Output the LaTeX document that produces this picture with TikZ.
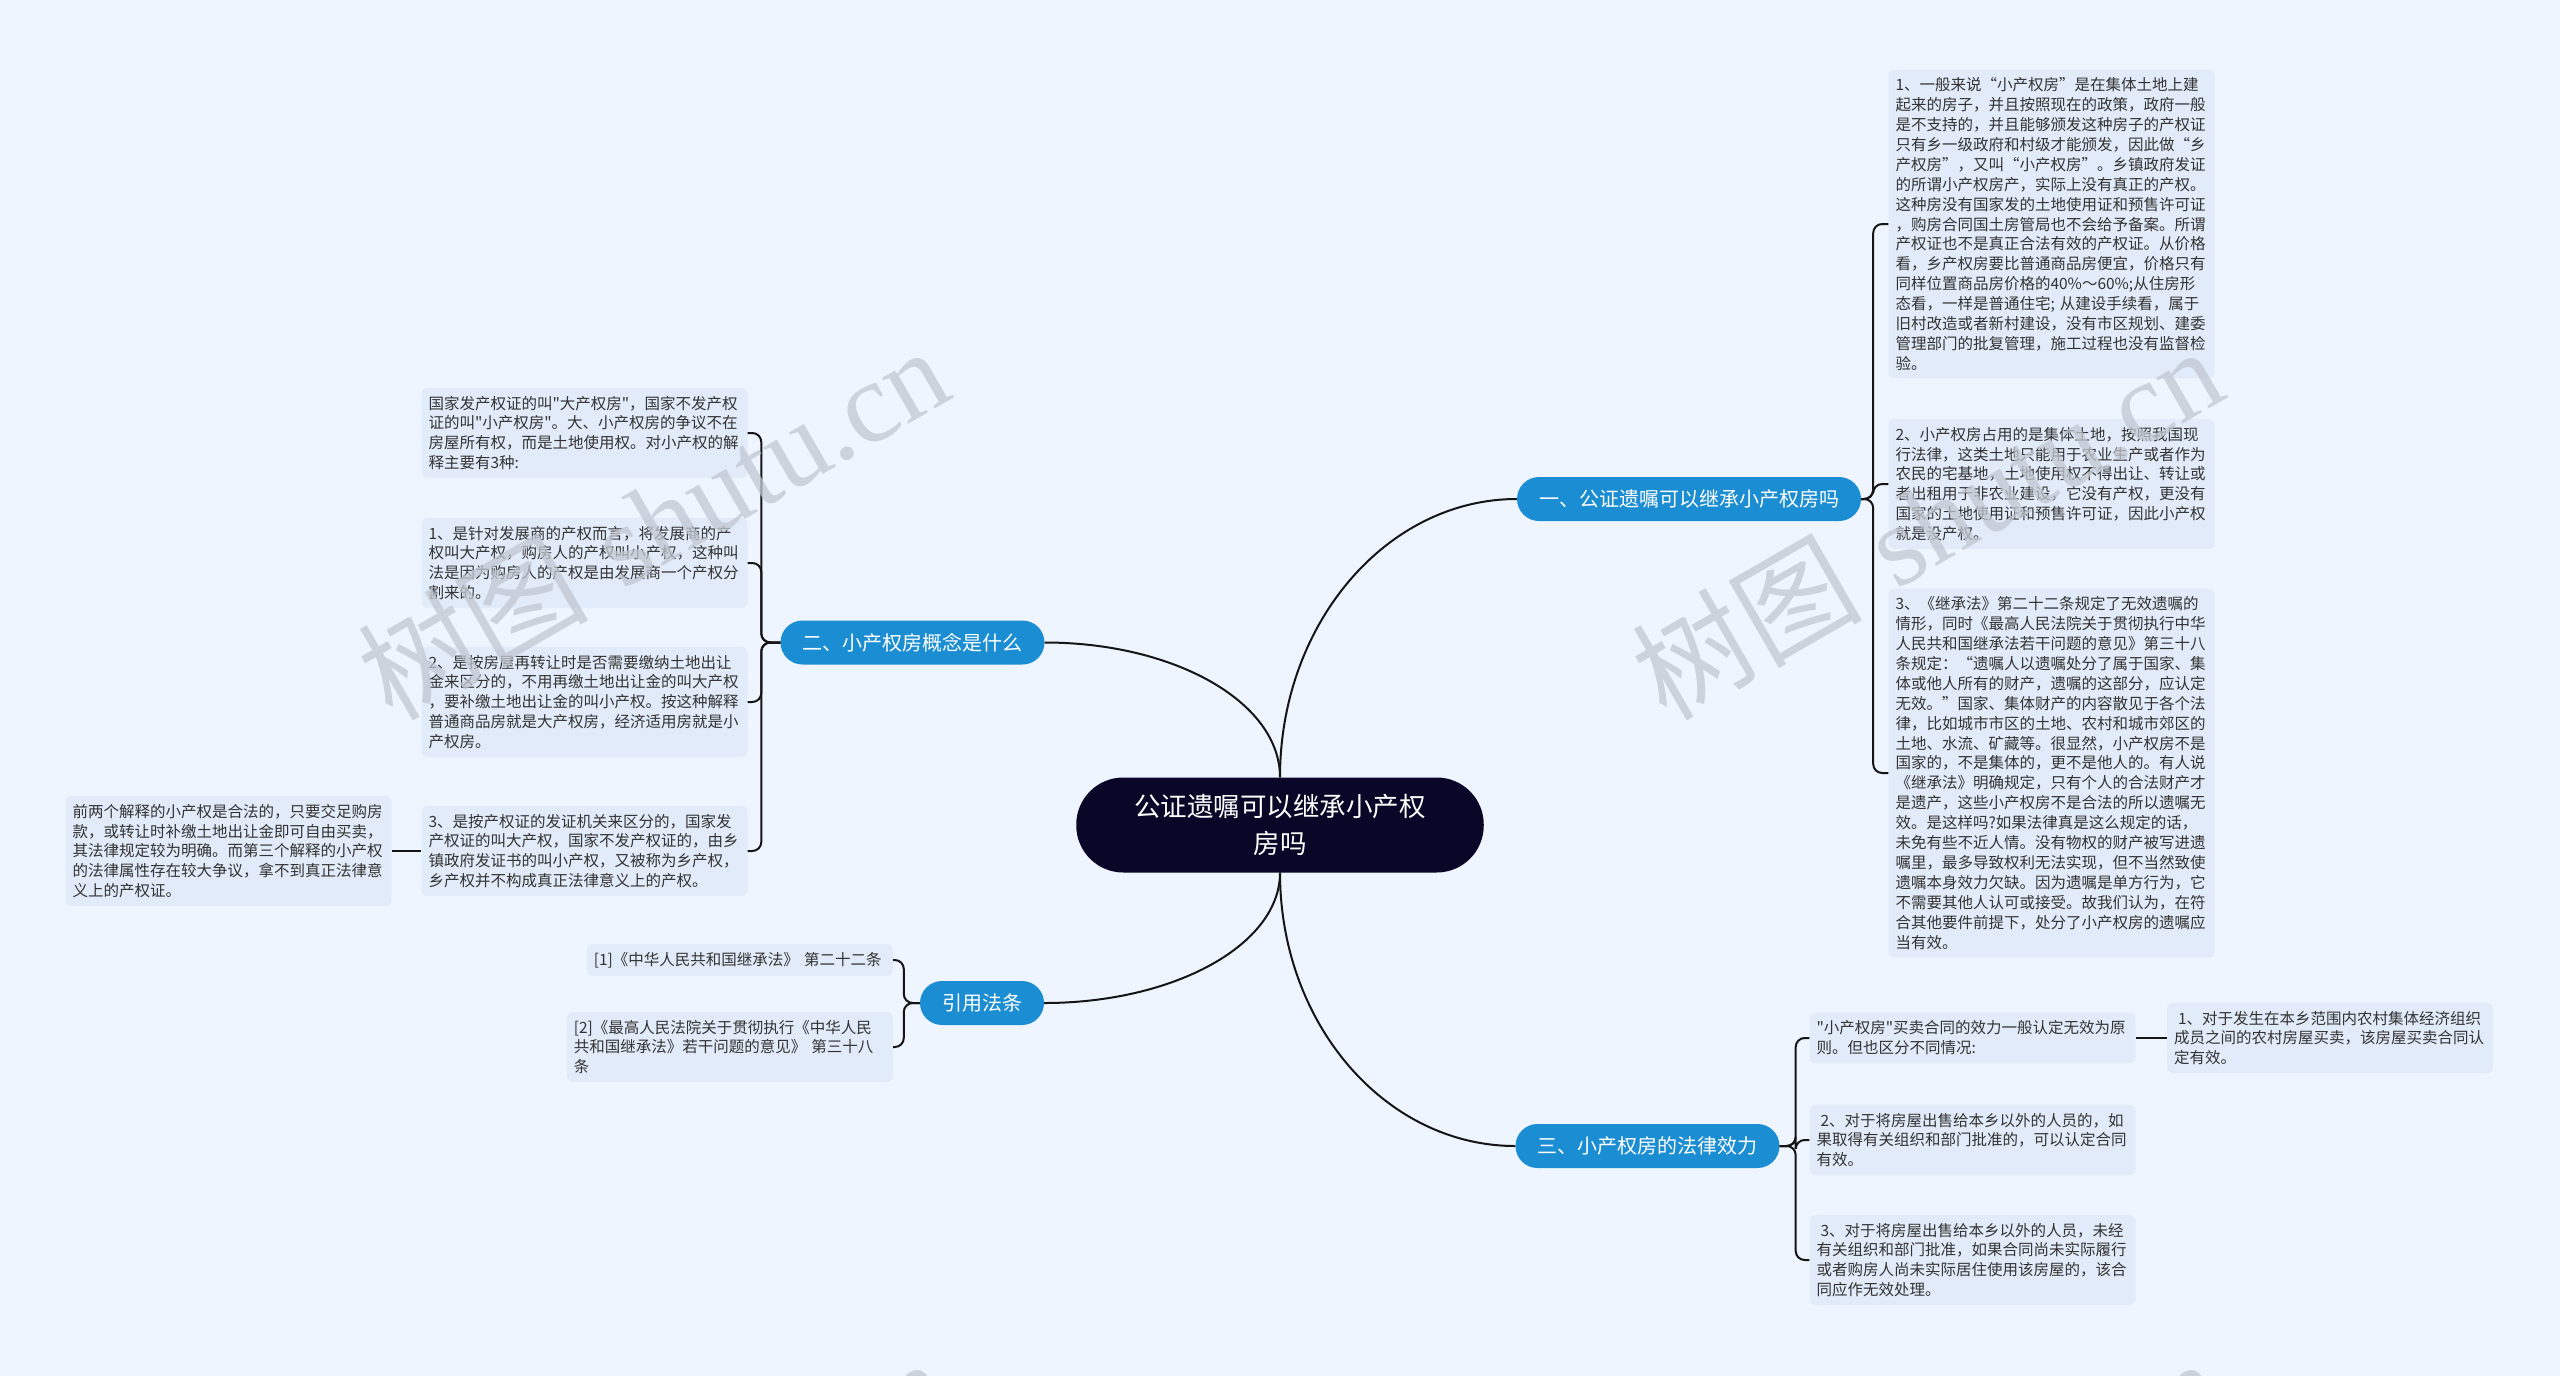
\documentclass[tikz,border=0pt]{standalone}
\usepackage{fontspec}
\newfontfamily\cnfont{Noto Sans CJK SC}
\newfontfamily\wmfont{Liberation Serif}

\definecolor{bgblue}{HTML}{EEF5FE}
\definecolor{leafblue}{HTML}{E2EBF9}
\definecolor{topicblue}{HTML}{1B8DD2}
\definecolor{rootnavy}{HTML}{0A0628}
\definecolor{linegray}{HTML}{151515}
\definecolor{textgray}{HTML}{333333}
\definecolor{wmgray}{HTML}{C3C8D1}

\begin{document}
\begin{tikzpicture}[x=1pt, y=-1pt,
    leaf/.style={rectangle, rounded corners=6pt, fill=leafblue, text=textgray, align=left,
        text width=312pt, inner xsep=7pt, inner ysep=8pt, font=\cnfont\fontsize{15.5}{19.9}\selectfont},
    topic/.style={rectangle, rounded corners=22pt, fill=topicblue, text=white,
        minimum height=44pt, inner xsep=22pt, font=\cnfont\fontsize{20}{24}\selectfont},
    rootnode/.style={rectangle, rounded corners=47pt, fill=rootnavy, text=white, align=center,
        minimum height=95pt, inner xsep=58pt, inner ysep=16pt, font=\cnfont\fontsize{26.5}{37}\selectfont},
    link/.style={draw=linegray, line width=2pt},
    brace/.style={link, rounded corners=9pt},
    wm/.style={text=wmgray, opacity=0.75, rotate=30, font=\cnfont\fontsize{115}{120}\selectfont}]
    % Background
    \fill[bgblue] (0,0) rectangle (2560,1376);
    \useasboundingbox (0,0) rectangle (2560,1376);
    % Root and main topics
    \node[rootnode] (root) at (1280,825) {公证遗嘱可以继承小产权\\房吗};
    \node[topic] (t1) at (1689,499) {一、公证遗嘱可以继承小产权房吗};
    \node[topic] (t2) at (912.5,642.5) {二、小产权房概念是什么};
    \node[topic] (law) at (982,1003) {引用法条};
    \node[topic] (t3) at (1647.5,1146) {三、小产权房的法律效力};
    % Branch one
    \node[leaf] (r1) at (2051.5,224) {1、一般来说“小产权房”是在集体土地上建\\起来的房子，并且按照现在的政策，政府一般\\是不支持的，并且能够颁发这种房子的产权证\\只有乡一级政府和村级才能颁发，因此做“乡\\产权房”，又叫“小产权房”。乡镇政府发证\\的所谓小产权房产，实际上没有真正的产权。\\这种房没有国家发的土地使用证和预售许可证\\，购房合同国土房管局也不会给予备案。所谓\\产权证也不是真正合法有效的产权证。从价格\\看，乡产权房要比普通商品房便宜，价格只有\\同样位置商品房价格的40\%～60\%;从住房形\\态看，一样是普通住宅; 从建设手续看，属于\\旧村改造或者新村建设，没有市区规划、建委\\管理部门的批复管理，施工过程也没有监督检\\验。};
    \node[leaf] (r2) at (2051.5,484) {2、小产权房占用的是集体土地，按照我国现\\行法律，这类土地只能用于农业生产或者作为\\农民的宅基地，土地使用权不得出让、转让或\\者出租用于非农业建设，它没有产权，更没有\\国家的土地使用证和预售许可证，因此小产权\\就是没产权。};
    \node[leaf] (r3) at (2051.5,773) {3、《继承法》第二十二条规定了无效遗嘱的\\情形，同时《最高人民法院关于贯彻执行中华\\人民共和国继承法若干问题的意见》第三十八\\条规定：“遗嘱人以遗嘱处分了属于国家、集\\体或他人所有的财产，遗嘱的这部分，应认定\\无效。”国家、集体财产的内容散见于各个法\\律，比如城市市区的土地、农村和城市郊区的\\土地、水流、矿藏等。很显然，小产权房不是\\国家的，不是集体的，更不是他人的。有人说\\《继承法》明确规定，只有个人的合法财产才\\是遗产，这些小产权房不是合法的所以遗嘱无\\效。是这样吗?如果法律真是这么规定的话，\\未免有些不近人情。没有物权的财产被写进遗\\嘱里，最多导致权利无法实现，但不当然致使\\遗嘱本身效力欠缺。因为遗嘱是单方行为，它\\不需要其他人认可或接受。故我们认为，在符\\合其他要件前提下，处分了小产权房的遗嘱应\\当有效。};
    % Branch two
    \node[leaf] (l0) at (584.5,433) {国家发产权证的叫"大产权房"，国家不发产权\\证的叫"小产权房"。大、小产权房的争议不在\\房屋所有权，而是土地使用权。对小产权的解\\释主要有3种:};
    \node[leaf] (l1) at (584.5,563) {1、是针对发展商的产权而言，将发展商的产\\权叫大产权，购房人的产权叫小产权，这种叫\\法是因为购房人的产权是由发展商一个产权分\\割来的。};
    \node[leaf] (l2) at (584.5,702) {2、是按房屋再转让时是否需要缴纳土地出让\\金来区分的，不用再缴土地出让金的叫大产权\\，要补缴土地出让金的叫小产权。按这种解释\\普通商品房就是大产权房，经济适用房就是小\\产权房。};
    \node[leaf] (l3) at (584.5,851) {3、是按产权证的发证机关来区分的，国家发\\产权证的叫大产权，国家不发产权证的，由乡\\镇政府发证书的叫小产权，又被称为乡产权，\\乡产权并不构成真正法律意义上的产权。};
    \node[leaf] (l3x) at (228.5,851) {前两个解释的小产权是合法的，只要交足购房\\款，或转让时补缴土地出让金即可自由买卖，\\其法律规定较为明确。而第三个解释的小产权\\的法律属性存在较大争议，拿不到真正法律意\\义上的产权证。};
    % Cited laws
    \node[leaf, text width=292pt, anchor=east] (cite1) at (893,960) {[1]《中华人民共和国继承法》 第二十二条};
    \node[leaf, anchor=east] (cite2) at (893,1047) {[2]《最高人民法院关于贯彻执行《中华人民\\共和国继承法》若干问题的意见》 第三十八\\条};
    % Branch three
    \node[leaf] (s1) at (1972.5,1038) {"小产权房"买卖合同的效力一般认定无效为原\\则。但也区分不同情况:};
    \node[leaf] (s2) at (1972.5,1140) {\hspace{4pt}2、对于将房屋出售给本乡以外的人员的，如\\果取得有关组织和部门批准的，可以认定合同\\有效。};
    \node[leaf] (s3) at (1972.5,1260) {\hspace{4pt}3、对于将房屋出售给本乡以外的人员，未经\\有关组织和部门批准，如果合同尚未实际履行\\或者购房人尚未实际居住使用该房屋的，该合\\同应作无效处理。};
    \node[leaf] (s1x) at (2330,1038) {\hspace{4pt}1、对于发生在本乡范围内农村集体经济组织\\成员之间的农村房屋买卖，该房屋买卖合同认\\定有效。};
    % Connections from root
    \draw[link] (root.north) .. controls +(0,-154) and +(-130,0) .. (t1.west);
    \draw[link] (root.north) .. controls +(0,-75) and +(130,0) .. (t2.east);
    \draw[link] (root.south) .. controls +(0,72) and +(130,0) .. (law.east);
    \draw[link] (root.south) .. controls +(0,151) and +(-130,0) .. (t3.west);
    % Braces to leaves
    \foreach \c in {r1,r2,r3}
        \draw[brace] (t1.east) -- ++(12,0) |- (\c.west);
    \foreach \c in {l0,l1,l2,l3}
        \draw[brace] (t2.west) -- ++(-19,0) |- (\c.east);
    \foreach \c in {cite1,cite2}
        \draw[brace] (law.west) -- ++(-16,0) |- (\c.east);
    \foreach \c in {s1,s2,s3}
        \draw[brace] (t3.east) -- ++(16,0) |- (\c.west);
    \draw[link] (s1.east) -- (s1x.west);
    \draw[link] (l3.west) -- (l3x.east);
    % Watermarks
    \begin{scope}
        \clip (0,0) rectangle (2560,1376);
        \node[wm] (wm1) at (653,522) {树图\hspace{0.3em}{\wmfont shutu.cn}};
        \node[wm] (wm2) at (1927,522) {树图\hspace{0.3em}{\wmfont shutu.cn}};
        \node[wm] (wm3) at (653,1534) {树图\hspace{0.3em}{\wmfont shutu.cn}};
        \node[wm] (wm4) at (1927,1534) {树图\hspace{0.3em}{\wmfont shutu.cn}};
    \end{scope}
\end{tikzpicture}
\end{document}
